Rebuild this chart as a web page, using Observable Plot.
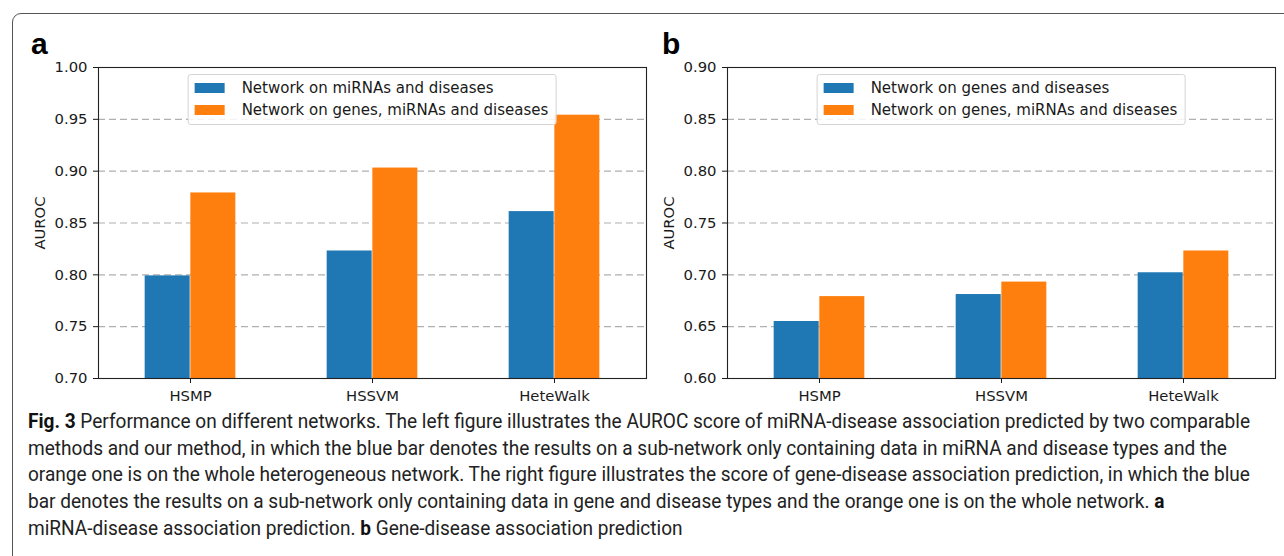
<!DOCTYPE html>
<html><head><meta charset="utf-8">
<script src="https://cdn.jsdelivr.net/npm/d3@7"></script>
<script src="https://cdn.jsdelivr.net/npm/@observablehq/plot@0.6"></script>
<style>
html,body{margin:0;padding:0;background:#fff;}
body{width:1284px;height:556px;overflow:hidden;position:relative;font-family:"DejaVu Sans",sans-serif;}
#box{position:absolute;left:12px;top:13px;width:1320px;height:620px;border:1.3px solid #555;border-radius:9px;box-sizing:border-box;}
.panel{position:absolute;top:0;}
.letter{position:absolute;font-family:"Liberation Sans",Arial,sans-serif;font-weight:bold;font-size:30px;line-height:1;color:#000;}
.legend{position:absolute;top:74px;transform:translateX(-50%);border:1px solid #d4d4d4;border-radius:3px;background:rgba(255,255,255,0.85);padding:2px 7px 3px 6px;font-size:15px;color:#1a1a1a;white-space:nowrap;}
.legend .row{height:22px;display:flex;align-items:center;}
.legend .sw{width:30px;height:10px;margin-right:17px;flex:none;}
#caption{position:absolute;left:28px;top:409px;font-family:Roboto,"Open Sans",sans-serif;font-size:19.5px;line-height:26.7px;color:#222;transform-origin:0 0;white-space:nowrap;}
#caption b{font-weight:bold;color:#111;}
</style></head><body>
<div id="box"></div>
<div id="root"></div>
<div id="caption"></div>
<script>
// ---- data ----
const methods = ["HSMP", "HSSVM", "HeteWalk"];
const seriesA = ["Network on miRNAs and diseases", "Network on genes, miRNAs and diseases"];
const seriesB = ["Network on genes and diseases", "Network on genes, miRNAs and diseases"];
const aBlue   = [0.799, 0.823, 0.861];
const aOrange = [0.879, 0.903, 0.954];
const bBlue   = [0.655, 0.681, 0.702];
const bOrange = [0.679, 0.693, 0.723];
const aTicks = [0.70, 0.75, 0.80, 0.85, 0.90, 0.95, 1.00];
const bTicks = [0.60, 0.65, 0.70, 0.75, 0.80, 0.85, 0.90];
const colors = ["#1f77b4", "#ff7f0e"];
const yLabel = "AUROC";
const panelLetters = ["a", "b"];
const captionLines = [
  "<b>Fig. 3</b> Performance on different networks. The left figure illustrates the AUROC score of miRNA-disease association predicted by two comparable",
  "methods and our method, in which the blue bar denotes the results on a sub-network only containing data in miRNA and disease types and the",
  "orange one is on the whole heterogeneous network. The right figure illustrates the score of gene-disease association prediction, in which the blue",
  "bar denotes the results on a sub-network only containing data in gene and disease types and the orange one is on the whole network. <b>a</b>",
  "miRNA-disease association prediction. <b>b</b> Gene-disease association prediction"
];

const FS = 14.8;
function panel({left, width, marginLeft, marginRight, blue, orange, ticks, series, letter, letterX}) {
  const marginTop = 67, marginBottom = 32, height = 410;
  const plotW = width - marginLeft - marginRight;
  const bw = plotW / methods.length;
  const rows = s => methods.map((m, i) => ({method: m, value: s[i]}));
  const grid = ticks.slice(1, -1);
  const svg = Plot.plot({
    width, height, marginLeft, marginRight, marginTop, marginBottom,
    style: {fontFamily: "DejaVu Sans, sans-serif", fontSize: FS + "px", color: "#1a1a1a", background: "transparent"},
    x: {domain: methods, padding: 0},
    y: {domain: [ticks[0], ticks[ticks.length - 1]]},
    marks: [
      Plot.gridY(grid, {stroke: "#b0b0b0", strokeOpacity: 1, strokeDasharray: "7,4", strokeWidth: 1.1}),
      Plot.barY(rows(blue), {x: "method", y1: ticks[0], y2: "value", fill: colors[0], insetLeft: bw / 4, insetRight: bw / 2}),
      Plot.barY(rows(orange), {x: "method", y1: ticks[0], y2: "value", fill: colors[1], insetLeft: bw / 2, insetRight: bw / 4}),
      Plot.frame({stroke: "#222", strokeWidth: 1.1}),
      Plot.axisY({ticks, tickFormat: d3.format(".2f"), tickSize: 5, tickPadding: 6, fontSize: FS, label: yLabel, labelAnchor: "center", labelArrow: "none", labelOffset: 64}),
      Plot.axisX({tickSize: 5, tickPadding: 7, fontSize: FS, label: null})
    ]
  });
  const wrap = document.createElement("div");
  wrap.className = "panel";
  wrap.style.left = left + "px";
  wrap.appendChild(svg);
  document.getElementById("root").appendChild(wrap);

  const lg = document.createElement("div");
  lg.className = "legend";
  lg.style.left = (left + marginLeft + plotW / 2) + "px";
  series.forEach((s, i) => {
    const r = document.createElement("div"); r.className = "row";
    const sw = document.createElement("span"); sw.className = "sw"; sw.style.background = colors[i];
    const t = document.createElement("span"); t.textContent = s;
    r.appendChild(sw); r.appendChild(t); lg.appendChild(r);
  });
  document.body.appendChild(lg);

  const L = document.createElement("div");
  L.className = "letter"; L.textContent = letter;
  L.style.left = letterX + "px"; L.style.top = "29px";
  document.body.appendChild(L);
}

panel({left: 0, width: 660, marginLeft: 98, marginRight: 14, blue: aBlue, orange: aOrange, ticks: aTicks, series: seriesA, letter: panelLetters[0], letterX: 31});
panel({left: 660, width: 624, marginLeft: 67, marginRight: 9, blue: bBlue, orange: bOrange, ticks: bTicks, series: seriesB, letter: panelLetters[1], letterX: 662});

const cap = document.getElementById("caption");
captionLines.forEach(l => { const d = document.createElement("div"); d.innerHTML = l; cap.appendChild(d); });
const first = document.createElement("span"); first.innerHTML = captionLines[0];
cap.firstChild.innerHTML = ""; cap.firstChild.appendChild(first);
const tw = first.getBoundingClientRect().width;
cap.style.transform = `scaleX(${1222 / tw})`;
</script>
</body></html>
